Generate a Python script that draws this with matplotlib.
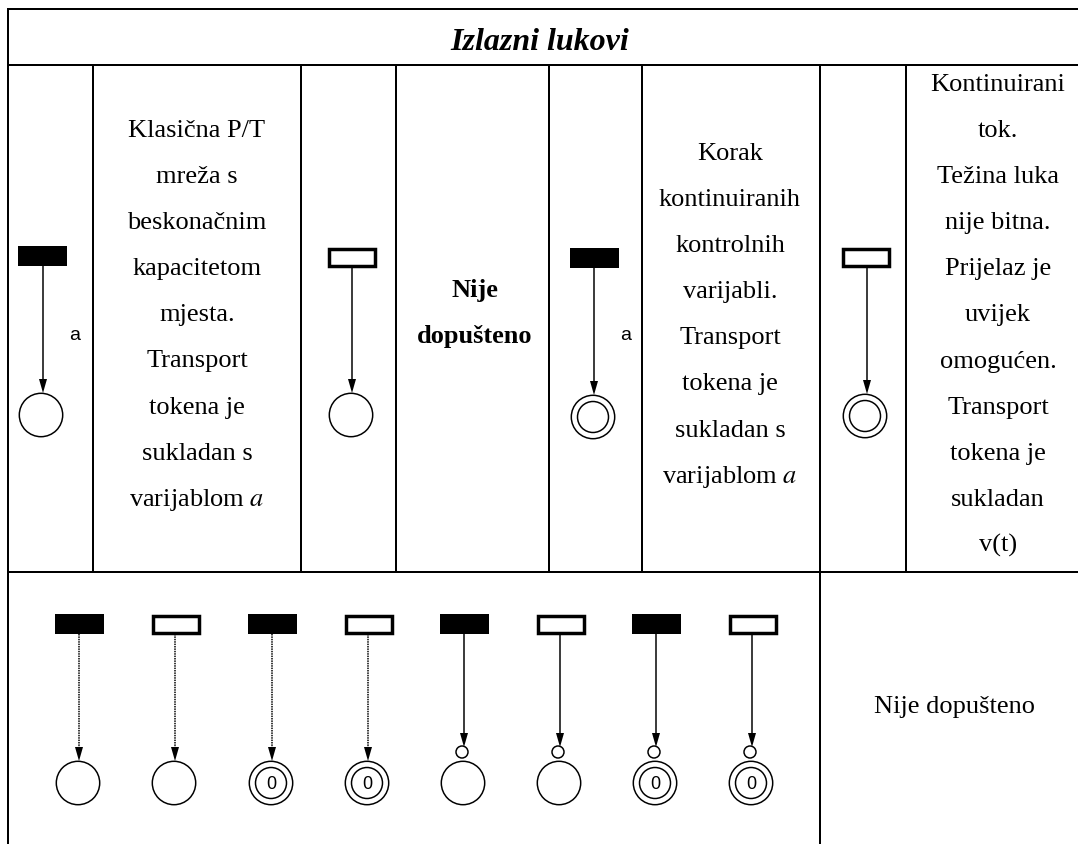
import matplotlib
matplotlib.use('Agg')
import matplotlib.pyplot as plt
from matplotlib.patches import Circle, Rectangle

plt.rcParams['font.family'] = ['Liberation Serif', 'DejaVu Serif']

W, H = 1078, 845
LW = 2 * 72 / 100  # table border
THIN = 1.5 * 72 / 100  # symbols
TXT = 19

# table rules, pixels
table_left = 8
table_top, header_y, row_y = 10, 66, 573
col_x = [93, 301, 396, 549, 642, 820, 905.5]
row3_split = 820

title = "Izlazni lukovi"

# (centre x, first baseline y, lines)
cell_text = [
    (197, 137, ["Klasična P/T", "mreža s", "beskonačnim", "kapacitetom", "mjesta.", "Transport", "tokena je", "sukladan s", "varijablom $\\mathit{a}$"]),
    (730, 160, ["Korak", "kontinuiranih", "kontrolnih", "varijabli.", "Transport", "tokena je", "sukladan s", "varijablom $\\mathit{a}$"]),
    (998, 91, ["Kontinuirani", "tok.", "Težina luka", "nije bitna.", "Prijelaz je", "uvijek", "omogućen.", "Transport", "tokena je", "sukladan", "v(t)"]),
]
bold_lines = ["Nije", "dopušteno"]
bottom_note = "Nije dopušteno"

# upper row symbols
top_bar_x = [42.5, 351.5, 594.5, 865.5]
top_bar_y = [257, 258, 259, 258]
top_arc_x = [43, 352, 594, 867]
top_place_x = [41, 351, 593, 865]
top_place_y = [416, 416, 418, 417]
top_solid = [True, False, True, False]
top_double = [False, False, True, True]
top_label = ["a", "", "a", ""]

# lower row symbols
low_x = [79, 175, 272, 368, 464, 560, 656, 752]
low_solid = [True, False, True, False, True, False, True, False]
low_double = [False, False, True, True, False, False, True, True]
low_inhib = [False, False, False, False, True, True, True, True]

fig = plt.figure(figsize=(W / 100, H / 100), dpi=100)
ax = fig.add_axes([0, 0, 1, 1])
ax.set_xlim(0, W)
ax.set_ylim(H, 0)
ax.axis('off')


def rule(x0, y0, x1, y1):
    ax.plot([x0, x1], [y0, y1], color='black', lw=LW, solid_capstyle='butt')


def bar(cx, cy, solid):
    if solid:
        ax.add_patch(Rectangle((cx - 24.5, cy - 10), 49, 20, fc='black', ec='none'))
    else:
        ax.add_patch(Rectangle((cx - 23, cy - 8.5), 46, 17, fc='white', ec='black', lw=2.5))


def place(cx, cy, double, zero=False):
    ax.add_patch(Circle((cx, cy), 21.7, fc='white', ec='black', lw=THIN))
    if double:
        ax.add_patch(Circle((cx, cy), 15.5, fc='white', ec='black', lw=THIN))
    if zero:
        ax.text(cx, cy + 1, "0", family='Liberation Sans', fontsize=13, ha='center', va='center')


def arrow(x, y0, y1, dotted=False):
    ax.plot([x, x], [y0, y1 - 12], color='black', lw=THIN, ls=(0, (1, 0.6)) if dotted else '-')
    ax.fill([x - 4, x + 4, x], [y1 - 14, y1 - 14, y1], color='black', lw=0)


# table
rule(table_left - 1, table_top, W, table_top)
rule(table_left - 1, header_y, W, header_y)
rule(table_left - 1, row_y, W, row_y)
rule(table_left, table_top, table_left, H)
for x in col_x:
    rule(x, header_y, x, row_y)
rule(row3_split, row_y, row3_split, H)

ax.text(540, 49.5, title, fontsize=23, fontstyle='italic', fontweight='bold', ha='center', va='baseline')

for cx, y0, lines in cell_text:
    for i, line in enumerate(lines):
        ax.text(cx, y0 + i * 46.1, line, fontsize=TXT, ha='center', va='baseline', math_fontfamily='stix')
for i, line in enumerate(bold_lines):
    ax.text(475, 297 + i * 46.1, line, fontsize=TXT, fontweight='bold', ha='center', va='baseline')
ax.text(954, 713, bottom_note, fontsize=TXT, ha='center', va='baseline')

# upper row
for i in range(4):
    bar(top_bar_x[i], top_bar_y[i], top_solid[i])
    arrow(top_arc_x[i], top_bar_y[i] + 10, top_place_y[i] - 22)
    place(top_place_x[i], top_place_y[i], top_double[i])
    if top_label[i]:
        ax.text(top_arc_x[i] + 32, 340, top_label[i], family='Liberation Sans', fontsize=14, ha='center', va='baseline')

# lower row
for x, solid, double, inhib in zip(low_x, low_solid, low_double, low_inhib):
    bar(x + 0.5, 625, solid)
    if inhib:
        arrow(x, 635, 748)
        ax.add_patch(Circle((x - 2, 753), 6, fc='white', ec='black', lw=THIN))
    else:
        arrow(x, 635, 762, dotted=True)
    place(x - 1, 784, double, zero=double)

fig.savefig('out.png', dpi=100)
